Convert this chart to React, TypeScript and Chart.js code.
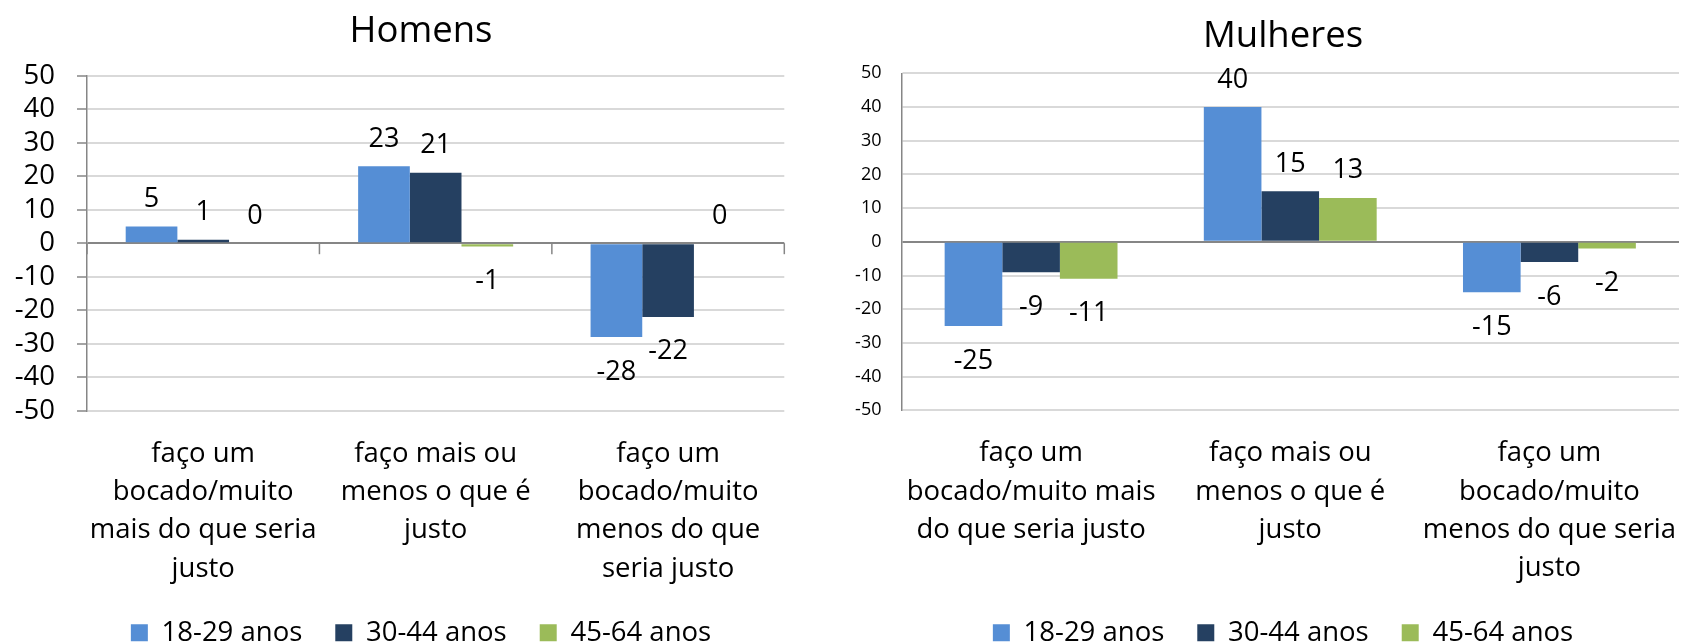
import React, { useEffect, useRef } from "react";
import { Chart, registerables } from "chart.js";

Chart.register(...registerables);

// ---------- data ----------
const seriesNames = ["18-29 anos", "30-44 anos", "45-64 anos"];
const seriesColors = ["#558ED5", "#254061", "#9BBB59"];

const categoriesHomens = [
  ["faço um", "bocado/muito", "mais do que seria", "justo"],
  ["faço mais ou", "menos o que é", "justo"],
  ["faço um", "bocado/muito", "menos do que", "seria justo"],
];
const homens18a29 = [5, 23, -28];
const homens30a44 = [1, 21, -22];
const homens45a64 = [0, -1, 0];

const categoriesMulheres = [
  ["faço um", "bocado/muito mais", "do que seria justo"],
  ["faço mais ou", "menos o que é", "justo"],
  ["faço um", "bocado/muito", "menos do que seria", "justo"],
];
const mulheres18a29 = [-25, 40, -15];
const mulheres30a44 = [-9, 15, -6];
const mulheres45a64 = [-11, 13, -2];

const yMin = -50;
const yMax = 50;
const yStep = 10;

// ---------- styling ----------
const FONT = "'Open Sans', sans-serif";
const AXIS_GRAY = "#868686";
const GRID_GRAY = "#D9D9D9";

const valueLabels = {
  id: "valueLabels",
  afterDatasetsDraw(chart: any) {
    const ctx = chart.ctx;
    ctx.save();
    ctx.font = `27px ${FONT}`;
    ctx.fillStyle = "#000";
    ctx.textAlign = "center";
    ctx.textBaseline = "alphabetic";
    chart.data.datasets.forEach((ds: any, i: number) => {
      const meta = chart.getDatasetMeta(i);
      meta.data.forEach((el: any, j: number) => {
        const v = ds.data[j];
        const y = v >= 0 ? el.y - 19.5 : el.y + 42.5;
        ctx.fillText(String(v), el.x, y);
      });
    });
    ctx.restore();
  },
};

const categoryTicks = {
  id: "categoryTicks",
  afterDatasetsDraw(chart: any) {
    const xs = chart.scales.x;
    const ys = chart.scales.y;
    const y0 = ys.getPixelForValue(0);
    const n = chart.data.labels.length;
    const step = xs.getPixelForValue(1) - xs.getPixelForValue(0);
    const start = xs.getPixelForValue(0) - step / 2;
    const ctx = chart.ctx;
    ctx.save();
    ctx.strokeStyle = AXIS_GRAY;
    ctx.lineWidth = 1.5;
    for (let i = 0; i <= n; i++) {
      const px = start + i * step;
      ctx.beginPath();
      ctx.moveTo(px, y0);
      ctx.lineTo(px, y0 + 11);
      ctx.stroke();
    }
    ctx.restore();
  },
};

type Cfg = {
  title: string;
  titlePadTop: number;
  titlePadBottom: number;
  labels: string[][];
  values: number[][];
  yAxisWidth: number;
  rightSpace: number;
  xAxisHeight: number;
  yTickSize: number;
  yTickPadding: number;
  yDrawTicks: boolean;
  zeroTicks: boolean;
};

function makeConfig(c: Cfg): any {
  return {
    type: "bar",
    data: {
      labels: c.labels,
      datasets: c.values.map((vals, i) => ({
        label: seriesNames[i],
        data: vals,
        backgroundColor: seriesColors[i],
        borderWidth: 0,
        categoryPercentage: 0.667,
        barPercentage: 1.0,
        yAxisID: "y",
        xAxisID: "x",
      })),
    },
    options: {
      responsive: false,
      maintainAspectRatio: false,
      animation: false,
      layout: { padding: 0 },
      plugins: {
        title: {
          display: true,
          text: c.title,
          color: "#000",
          font: { family: FONT, size: 36.5, weight: "normal", lineHeight: 1.2 },
          padding: { top: c.titlePadTop, bottom: c.titlePadBottom },
        },
        legend: {
          display: true,
          position: "bottom",
          maxHeight: 57,
          labels: {
            boxWidth: 17,
            boxHeight: 17,
            padding: 33,
            color: "#000",
            font: { family: FONT, size: 27.5 },
          },
        },
        tooltip: { enabled: false },
      },
      scales: {
        x: {
          type: "category",
          position: "bottom",
          offset: true,
          grid: { display: false, drawTicks: false, offset: true },
          border: { display: false },
          ticks: {
            autoSkip: false,
            maxRotation: 0,
            minRotation: 0,
            padding: 24,
            color: "#000",
            font: { family: FONT, size: 27.5, lineHeight: "38.3px" },
          },
          afterFit: (s: any) => {
            s.height = c.xAxisHeight;
          },
        },
        y: {
          type: "linear",
          position: "left",
          min: yMin,
          max: yMax,
          ticks: {
            stepSize: yStep,
            autoSkip: false,
            padding: c.yTickPadding,
            color: "#000",
            font: { family: FONT, size: c.yTickSize },
          },
          grid: {
            color: (ctx: any) =>
              ctx.tick && ctx.tick.value === 0 ? AXIS_GRAY : GRID_GRAY,
            lineWidth: 2,
            drawTicks: c.yDrawTicks,
            tickLength: 10,
            tickColor: AXIS_GRAY,
            tickWidth: 1.5,
          },
          border: { display: true, color: AXIS_GRAY, width: 1.5 },
          afterFit: (s: any) => {
            s.width = c.yAxisWidth;
          },
        },
        ySpace: {
          type: "linear",
          position: "right",
          display: true,
          grid: { display: false, drawTicks: false },
          border: { display: false },
          ticks: { display: false },
          afterFit: (s: any) => {
            s.width = c.rightSpace;
          },
        },
      },
    },
    plugins: c.zeroTicks ? [valueLabels, categoryTicks] : [valueLabels],
  };
}

function BarChart({ cfg, width, height }: { cfg: Cfg; width: number; height: number }) {
  const ref = useRef<HTMLCanvasElement | null>(null);
  useEffect(() => {
    if (!ref.current) return;
    const chart = new Chart(ref.current, makeConfig(cfg));
    return () => chart.destroy();
  }, [cfg]);
  return (
    <canvas
      ref={ref}
      width={width}
      height={height}
      style={{ display: "block", width, height }}
    />
  );
}

const homensCfg: Cfg = {
  title: "Homens",
  titlePadTop: 9.7,
  titlePadBottom: 22.2,
  labels: categoriesHomens,
  values: [homens18a29, homens30a44, homens45a64],
  yAxisWidth: 87,
  rightSpace: 57.7,
  xAxisHeight: 175.3,
  yTickSize: 27.5,
  yTickPadding: 22,
  yDrawTicks: true,
  zeroTicks: true,
};

const mulheresCfg: Cfg = {
  title: "Mulheres",
  titlePadTop: 15.2,
  titlePadBottom: 14.3,
  labels: categoriesMulheres,
  values: [mulheres18a29, mulheres30a44, mulheres45a64],
  yAxisWidth: 59.5,
  rightSpace: 45,
  xAxisHeight: 175.7,
  yTickSize: 18,
  yTickPadding: 20,
  yDrawTicks: false,
  zeroTicks: false,
};

export default function App() {
  return (
    <div
      style={{
        position: "fixed",
        left: 0,
        top: 0,
        width: 1681,
        height: 643,
        overflow: "hidden",
        background: "#fff",
      }}
    >
      <div style={{ position: "absolute", left: 0, top: 0 }}>
        <BarChart cfg={homensCfg} width={842} height={643} />
      </div>
      <div style={{ position: "absolute", left: 842, top: 0 }}>
        <BarChart cfg={mulheresCfg} width={882} height={643} />
      </div>
    </div>
  );
}
